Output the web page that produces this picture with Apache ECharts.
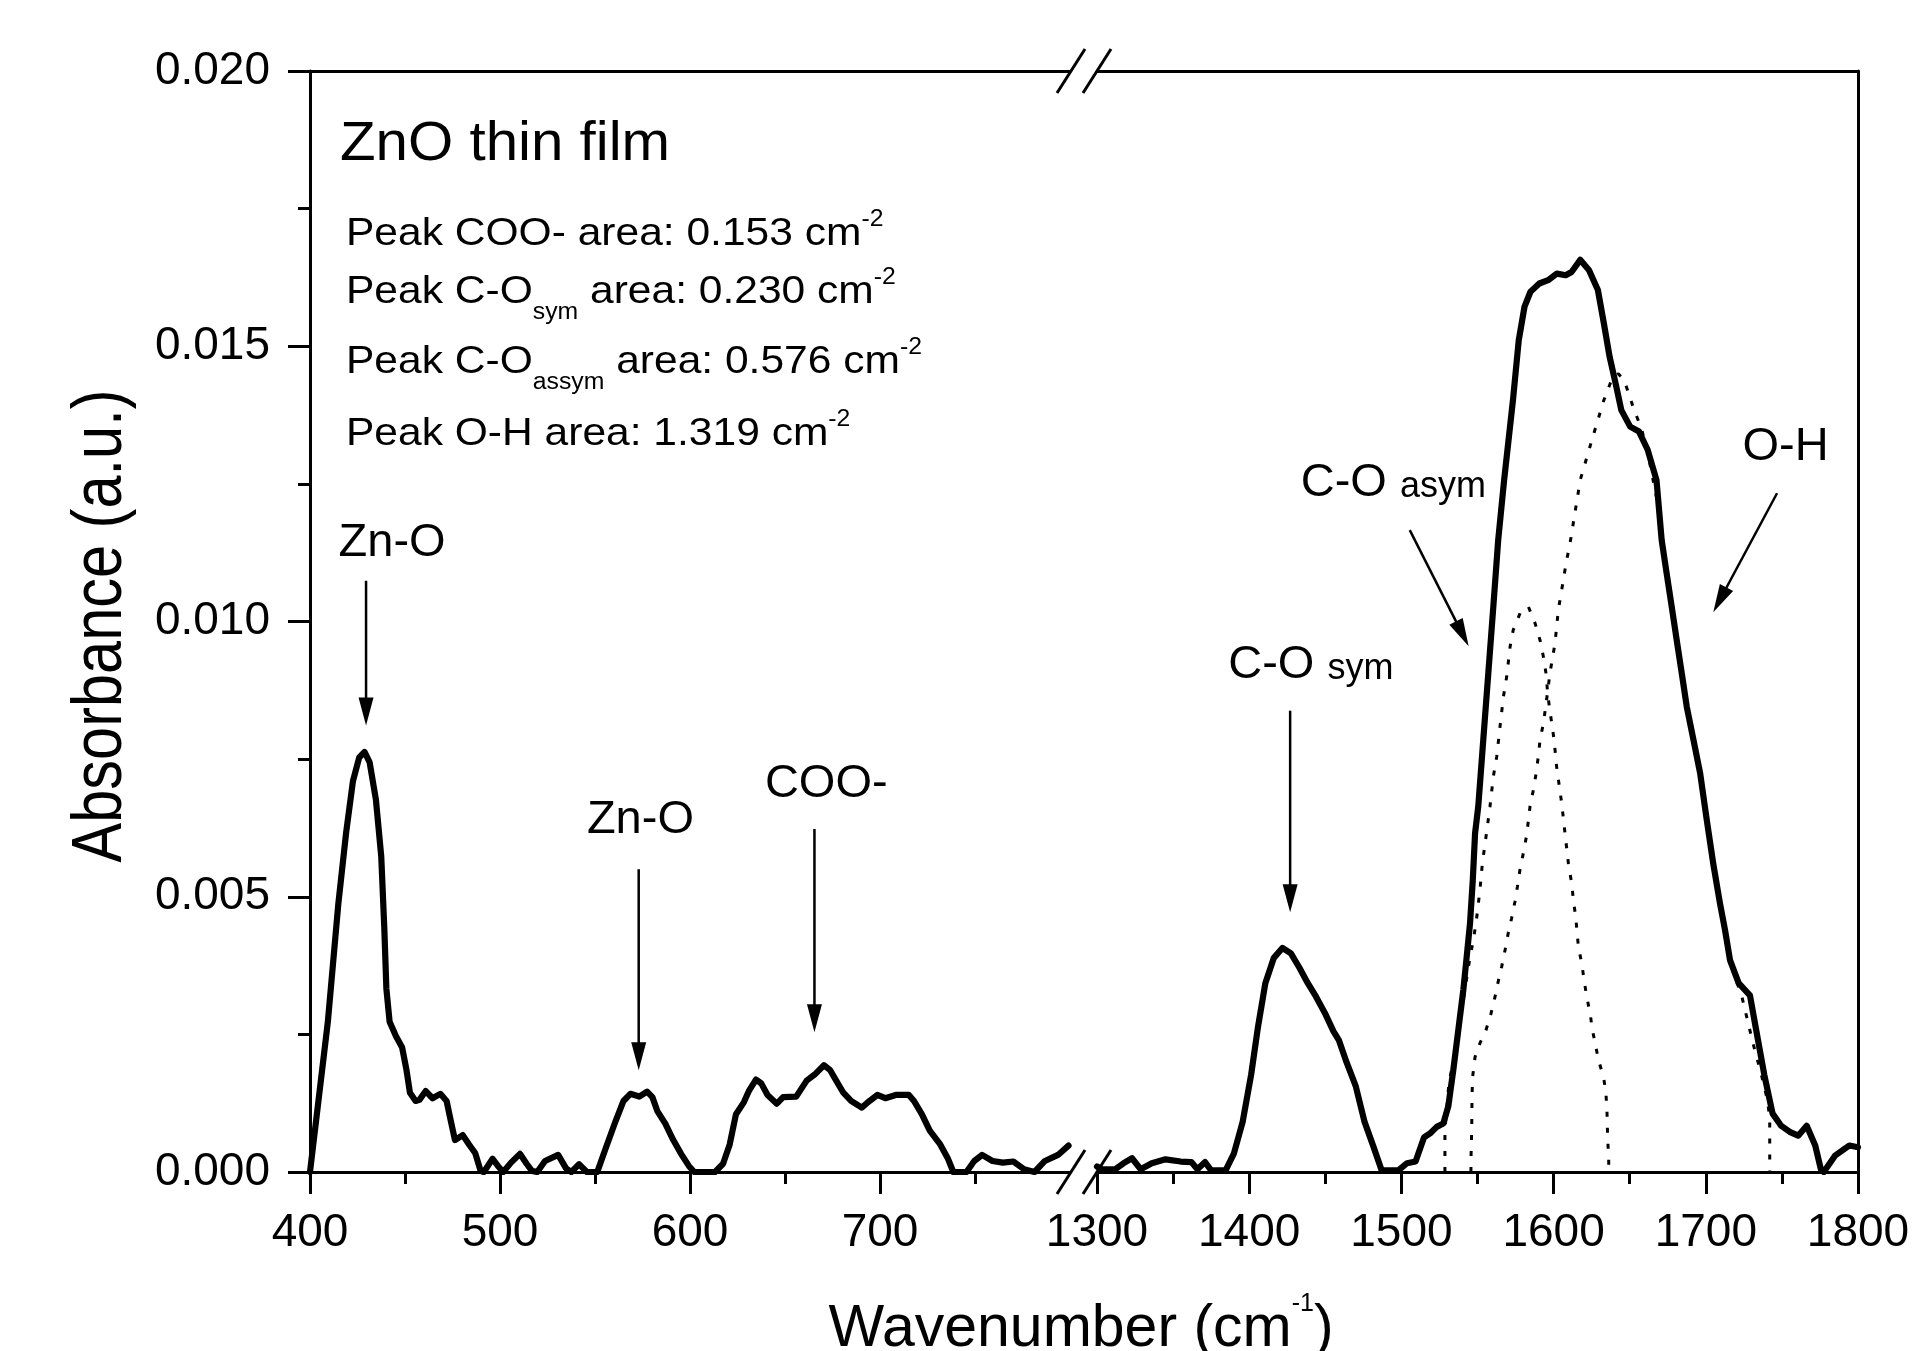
<!DOCTYPE html>
<html>
<head>
<meta charset="utf-8">
<script src="https://cdn.jsdelivr.net/npm/echarts@6/dist/echarts.min.js"></script>
<style>
  html, body { margin: 0; padding: 0; background: #fff; }
  #chart { width: 1919px; height: 1351px; }
</style>
</head>
<body>
<div id="chart"></div>
<script>
// FTIR absorbance of a ZnO thin film, broken wavenumber axis (400-800 | 1300-1800 cm-1)

// measured spectrum, low-wavenumber segment [cm-1, absorbance]
const spectrumLow = [
  [400,0],[409.4,0.00273],[414.9,0.00487],[419,0.00616],[422.6,0.0071],[425.9,0.00753],[428.7,0.00763],
  [431.4,0.00744],[434.7,0.00676],[437.5,0.00573],[439.1,0.00444],[440.2,0.00333],[441.9,0.00273],
  [445.2,0.00247],[448.5,0.00226],[450.7,0.00187],[452.6,0.00144],[455.6,0.00129],[457.6,0.00131],
  [460.9,0.00147],[464.5,0.00134],[468.6,0.00142],[471.9,0.00129],[474.1,0.00093],[476.3,0.00058],
  [480.4,0.00067],[483.7,0.0005],[487,0.00034],[489.8,0.00002],[491.5,0],[496.1,0.00024],[498.9,0.00011],
  [501.7,0],[505.8,0.00017],[510.5,0.00033],[514,0.00015],[516.8,0.00002],[519.6,0],[523.7,0.0002],
  [530.6,0.00031],[534.7,0.00007],[537.5,0],[541.6,0.00014],[545.7,0],[551.2,0],[555.4,0.00041],
  [560.9,0.00093],[565,0.00129],[568.6,0.00142],[573.3,0.00137],[577.4,0.00146],[580.2,0.00136],
  [582.9,0.0011],[587,0.00088],[591.2,0.00058],[595.3,0.00033],[599.4,0.00011],[602.2,0],[613.2,0],
  [617.4,0.00015],[620.9,0.0005],[624.2,0.00105],[628.4,0.00127],[631.1,0.00148],[634.7,0.00168],
  [637.5,0.00161],[640.8,0.0014],[645.7,0.00124],[649,0.00136],[655.9,0.00137],[661.4,0.00166],
  [665.6,0.00177],[670.5,0.00194],[673.8,0.00185],[676.6,0.00168],[680.7,0.00144],[684.8,0.00129],
  [690.4,0.00117],[694.5,0.00129],[698.6,0.0014],[702.8,0.00134],[708.3,0.0014],[715.2,0.0014],
  [717.9,0.00129],[722,0.00105],[726.2,0.00075],[731.7,0.0005],[735.8,0.00024],[738.6,0],[745.5,0],
  [749.6,0.0002],[753.7,0.00031],[759.2,0.0002],[764.7,0.00017],[770.2,0.00019],[775.8,0.00005],
  [781.3,0],[786.8,0.0002],[793.7,0.00031],[799.2,0.00048]
];

// measured spectrum, high-wavenumber segment
const spectrumHigh = [
  [1300,0.0001],[1303,0.00005],[1312,0.00005],[1317.5,0.00016],[1323,0.00025],[1328.7,0.00005],
  [1336,0.00016],[1345,0.00023],[1355,0.00019],[1362,0.00018],[1366,0.00005],[1371,0.00018],
  [1375,0.00003],[1384.5,0.00003],[1390,0.00034],[1395.7,0.00091],[1401.3,0.00177],[1405.8,0.00264],
  [1410.6,0.00343],[1416.2,0.00389],[1421.8,0.00407],[1427.4,0.00397],[1433,0.00371],[1438.5,0.00343],
  [1444,0.00318],[1449.7,0.00289],[1455.3,0.00256],[1459,0.00239],[1464,0.00199],[1470,0.00156],
  [1475.8,0.00091],[1481.4,0.00048],[1487,0.00003],[1498,0.00003],[1503.7,0.00016],[1509.3,0.00019],
  [1514.9,0.00063],[1518.8,0.0007],[1523.2,0.00082],[1527.5,0.00088],[1530.8,0.00119],[1534.1,0.00185],
  [1537.4,0.00258],[1540.7,0.00331],[1542.9,0.00391],[1545.1,0.00452],[1546.9,0.0053],[1548.4,0.00615],
  [1550.5,0.00664],[1553.8,0.00785],[1557.1,0.00906],[1560.4,0.01027],[1563.6,0.01148],[1567.5,0.01257],
  [1573.3,0.01402],[1577.1,0.01511],[1580.9,0.01572],[1584.8,0.01599],[1590.6,0.01614],[1596.4,0.0162],
  [1602.2,0.01632],[1607.9,0.01629],[1611.8,0.01635],[1617.5,0.01657],[1623.3,0.01638],[1629.1,0.01602],
  [1633,0.01542],[1636.8,0.01481],[1640.7,0.01433],[1644.5,0.01384],[1650.3,0.01354],[1656.1,0.01345],
  [1661.8,0.01312],[1667.6,0.01257],[1671,0.01148],[1674.3,0.01087],[1677.6,0.01027],[1680.9,0.00966],
  [1684.2,0.00906],[1687.5,0.00845],[1691.9,0.00785],[1696.3,0.00724],[1700.6,0.0064],[1704.9,0.0056],
  [1709.3,0.00488],[1712.6,0.0044],[1715.9,0.00385],[1721.6,0.00343],[1729,0.00321],[1732.7,0.00264],
  [1738.4,0.00177],[1743.9,0.00106],[1749.5,0.00084],[1755.1,0.00073],[1760.7,0.00066],[1766.3,0.00084],
  [1771.9,0.00048],[1775.6,0.00005],[1777.5,0],[1785,0.0003],[1794.3,0.00048],[1800,0.00045]
];

// fitted component: C-O asymmetric stretch
const fitCOasym = [
  [1528.6,0],[1528.6,0.00076],[1531.2,0.00161],[1533.4,0.00191],[1536.5,0.0024],[1540.5,0.0031],
  [1544.5,0.0038],[1547.6,0.00427],[1549.3,0.00458],[1551.6,0.00512],[1553.2,0.00561],[1555.3,0.00603],
  [1558.2,0.00664],[1560.4,0.00718],[1562.6,0.00754],[1564.8,0.00809],[1567,0.00863],[1569.2,0.009],
  [1571.4,0.00954],[1573.5,0.00985],[1578,0.01015],[1583.4,0.01027],[1587.8,0.00997],[1591.1,0.00966],
  [1593.3,0.00936],[1595,0.00906],[1595.9,0.00876],[1597.2,0.00845],[1598.8,0.00815],[1600.3,0.00785],
  [1602,0.00736],[1603.8,0.007],[1605.3,0.0067],[1607.5,0.00615],[1609.7,0.00561],[1611.9,0.00524],
  [1613,0.00494],[1614.5,0.00464],[1616.3,0.00409],[1618.5,0.00379],[1620,0.00349],[1621.8,0.00318],
  [1624,0.00288],[1625.5,0.00258],[1627.3,0.00234],[1629.5,0.00203],[1632.8,0.00173],[1634.4,0.00143],
  [1635.1,0.00107],[1635.5,0.00064],[1636.2,0.00022],[1636.3,0]
];

// fitted component: O-H bending
const fitOH = [
  [1545.7,0],[1545.7,0.00022],[1546.2,0.00076],[1546.4,0.00137],[1546.8,0.00173],[1548.4,0.00209],
  [1551.6,0.00234],[1555.6,0.00258],[1558.9,0.00288],[1561.5,0.00318],[1563.6,0.00346],[1565.9,0.00373],
  [1568.1,0.00403],[1570.2,0.00434],[1572.4,0.00461],[1574.6,0.00491],[1576.2,0.00518],[1577.9,0.00549],
  [1580.1,0.00579],[1582.3,0.00612],[1584.5,0.00664],[1586.7,0.00694],[1588.5,0.00724],[1589.9,0.00754],
  [1591.1,0.00785],[1593.3,0.00815],[1595.5,0.0086],[1597.6,0.00906],[1600.9,0.0096],[1603.1,0.01021],
  [1606.4,0.01075],[1608.2,0.01106],[1610.8,0.01142],[1617.5,0.01257],[1625.2,0.0133],[1633,0.01402],
  [1638.8,0.01444],[1642.6,0.0145],[1646.4,0.01438],[1652.2,0.0139],[1658,0.01348],[1663,0.0129],
  [1668,0.0122],[1672,0.0114],[1676,0.0106],[1680,0.0098],[1684,0.0091],[1688,0.0084],[1692,0.0078],
  [1696,0.0072],[1700.6,0.0065],[1705,0.0057],[1709,0.0049],[1713,0.0043],[1717.9,0.00364],
  [1723.5,0.00321],[1727.2,0.00278],[1730.9,0.00235],[1736.5,0.00177],[1740.2,0.00134],[1742,0.001],[1742,0]
];

// tick values
const lowTicks = [400, 500, 600, 700];
const highTicks = [1300, 1400, 1500, 1600, 1700, 1800];
const absTicks = [0, 0.005, 0.010, 0.015, 0.020];

// band assignments: label text, label centre, arrow start and tip (data coordinates), panel
const bandName = ['Zn-O', 'Zn-O', 'COO-', 'C-O', 'C-O', 'O-H'];
const bandSuffix = ['', '', '', 'sym', 'asym', ''];
const bandLabelAt = [[443.2,0.01144],[573.9,0.00641],[671.7,0.00707],[1440.5,0.00923],[1494.7,0.01253],[1752.4,0.01319]];
const bandArrowFrom = [[429.5,0.01074],[573,0.0055],[665.5,0.00623],[1426.9,0.00838],[1505.5,0.01166],[1746.8,0.01233]];
const bandArrowTo = [[429.5,0.00811],[573,0.00185],[665.5,0.00254],[1426.9,0.00472],[1544.2,0.00955],[1704.9,0.01017]];
const bandPanel = [0, 0, 0, 1, 1, 1];

// fitted peak areas
const areaLabels = ['COO-', 'C-O|sym', 'C-O|assym', 'O-H'];
const areaValues = ['0.153', '0.230', '0.576', '1.319'];

// ---------- layout ----------
const FF = '"Liberation Sans", Arial, Helvetica, sans-serif';
const PLOT_TOP = 71, PLOT_H = 1101;
const LOW_X0 = 310, LOW_W = 760;
const HIGH_X0 = 1097, HIGH_W = 761;
const MID = 0.33; // alphabetic baseline offset from text middle, in em

const measureCtx = document.createElement('canvas').getContext('2d');
function textWidth(t, size) {
  measureCtx.font = size + 'px ' + FF;
  return measureCtx.measureText(t).width;
}
function textEl(t, size, x, baseline, sx) {
  return {
    type: 'text', x: x, y: baseline - MID * size, scaleX: sx || 1,
    style: {
      text: t, font: size + 'px ' + FF, fill: '#000',
      align: 'left', verticalAlign: 'middle', textAlign: 'left', textVerticalAlign: 'middle'
    },
    silent: true
  };
}
// lay out a run of text pieces (for sub/superscripts) along one baseline
function textRun(parts, x, baseline, sx) {
  sx = sx || 1;
  const out = [];
  parts.forEach(p => {
    if (p.t) out.push(textEl(p.t, p.size, x, baseline + (p.dy || 0), sx));
    x += textWidth(p.t, p.size) * sx;
  });
  return out;
}
function runWidth(parts, sx) {
  return parts.reduce((s, p) => s + textWidth(p.t, p.size), 0) * (sx || 1);
}

// ---------- annotation text block ----------
const graphics = [];
textRun([{ t: 'ZnO thin film', size: 56 }], 340, 163, 1.04).forEach(e => graphics.push(e));
const BLOCK_SX = 1.077, BIG = 39.5, SMALL = 23;
const blockBaselines = [247, 305, 375, 447];
areaLabels.forEach((lab, i) => {
  const [name, sub] = lab.split('|');
  const parts = [{ t: 'Peak ' + name, size: BIG }];
  if (sub) parts.push({ t: sub, size: SMALL, dy: 15 });
  parts.push({ t: ' area: ' + areaValues[i] + ' cm', size: BIG });
  parts.push({ t: '-2', size: SMALL, dy: -20 });
  textRun(parts, 346, blockBaselines[i], BLOCK_SX).forEach(e => graphics.push(e));
});

// x-axis title with superscript
const xTitle = [{ t: 'Wavenumber (cm', size: 59 }, { t: '-1', size: 25, dy: -37 }, { t: ')', size: 59 }];
textRun(xTitle, 1081 - runWidth(xTitle) / 2, 1349).forEach(e => graphics.push(e));

// y-axis title
graphics.push({
  type: 'text', x: 102, y: 626, rotation: Math.PI / 2, scaleX: 0.85, silent: true,
  style: {
    text: 'Absorbance (a.u.)', font: '70px ' + FF, fill: '#000',
    align: 'center', verticalAlign: 'middle', textAlign: 'center', textVerticalAlign: 'middle'
  }
});

// axis-break marks on top and bottom frame lines
[LOW_X0 + LOW_W + 1, HIGH_X0].forEach(cx => {
  [PLOT_TOP, PLOT_TOP + PLOT_H].forEach(cy => {
    graphics.push({
      type: 'line', silent: true, z: 10,
      shape: { x1: cx - 14, y1: cy + 22, x2: cx + 14, y2: cy - 22 },
      style: { stroke: '#000', lineWidth: 3 }
    });
  });
});

// ---------- axes ----------
const black = { color: '#000', width: 3 };
function bottomAxis(grid, min, max, ticks) {
  return {
    gridIndex: grid, type: 'value', position: 'bottom', min: min, max: max, interval: 100,
    axisLine: { show: true, onZero: false, lineStyle: black },
    axisTick: { show: true, length: 22, lineStyle: black, customValues: ticks },
    minorTick: { show: true, splitNumber: 2, length: 12, lineStyle: black },
    axisLabel: { show: true, customValues: ticks, margin: 38, fontSize: 46, fontFamily: FF, color: '#000',
                 formatter: v => String(v) },
    splitLine: { show: false }, minorSplitLine: { show: false }
  };
}
function frameAxis(grid, pos, min, max) {
  return {
    gridIndex: grid, type: 'value', position: pos, min: min, max: max,
    axisLine: { show: true, onZero: false, lineStyle: black },
    axisTick: { show: false }, minorTick: { show: false },
    axisLabel: { show: false }, splitLine: { show: false }
  };
}

// ---------- band annotations (arrows + labels) ----------
const LABEL_BIG = 47, LABEL_SMALL = 36;
function bandItems(panel) {
  const items = [];
  bandName.forEach((n, i) => {
    if (bandPanel[i] !== panel) return;
    items.push([bandLabelAt[i][0], bandLabelAt[i][1], bandArrowFrom[i][0], bandArrowFrom[i][1],
                bandArrowTo[i][0], bandArrowTo[i][1], i]);
  });
  return items;
}
function renderBand(params, api) {
  const i = api.value(6);
  const c = api.coord([api.value(0), api.value(1)]);
  const a = api.coord([api.value(2), api.value(3)]);
  const b = api.coord([api.value(4), api.value(5)]);
  const dx = b[0] - a[0], dy = b[1] - a[1];
  const len = Math.hypot(dx, dy), ux = dx / len, uy = dy / len;
  const headLen = 28, headHalf = 7.5;
  const bx = b[0] - ux * headLen, by = b[1] - uy * headLen;
  const children = [
    { type: 'line', shape: { x1: a[0], y1: a[1], x2: bx + ux * 2, y2: by + uy * 2 },
      style: { stroke: '#000', lineWidth: 2.5 } },
    { type: 'polygon', shape: { points: [[b[0], b[1]], [bx - uy * headHalf, by + ux * headHalf], [bx + uy * headHalf, by - ux * headHalf]] },
      style: { fill: '#000' } }
  ];
  const parts = [{ t: bandName[i], size: LABEL_BIG }];
  if (bandSuffix[i]) { parts.push({ t: ' ', size: LABEL_BIG }); parts.push({ t: bandSuffix[i], size: LABEL_SMALL }); }
  const w = runWidth(parts);
  textRun(parts, c[0] - w / 2, c[1] + 0.358 * LABEL_BIG).forEach(e => children.push(e));
  return { type: 'group', children: children };
}

const spectrumStyle = { color: '#000', width: 6.2, join: 'round', cap: 'round' };
const fitStyle = { color: '#000', width: 3, type: [5, 11], cap: 'butt' };

const option = {
  backgroundColor: '#fff',
  animation: false,
  grid: [
    { left: LOW_X0, top: PLOT_TOP, width: LOW_W, height: PLOT_H },
    { left: HIGH_X0, top: PLOT_TOP, width: HIGH_W, height: PLOT_H }
  ],
  xAxis: [
    bottomAxis(0, 400, 800, lowTicks),
    frameAxis(0, 'top', 400, 800),
    bottomAxis(1, 1300, 1800, highTicks),
    frameAxis(1, 'top', 1300, 1800)
  ],
  yAxis: [
    {
      gridIndex: 0, type: 'value', position: 'left', min: 0, max: 0.02, interval: 0.005,
      axisLine: { show: true, onZero: false, lineStyle: black },
      axisTick: { show: true, length: 22, lineStyle: black },
      minorTick: { show: true, splitNumber: 2, length: 12, lineStyle: black },
      axisLabel: { show: true, margin: 40, fontSize: 46, fontFamily: FF, color: '#000',
                   formatter: v => v.toFixed(3), customValues: absTicks },
      splitLine: { show: false }, minorSplitLine: { show: false }
    },
    frameAxis(1, 'right', 0, 0.02)
  ],
  series: [
    { type: 'line', xAxisIndex: 0, yAxisIndex: 0, data: spectrumLow, symbol: 'none', lineStyle: spectrumStyle, z: 4, silent: true },
    { type: 'line', xAxisIndex: 2, yAxisIndex: 1, data: spectrumHigh, symbol: 'none', lineStyle: spectrumStyle, z: 4, silent: true },
    { type: 'line', xAxisIndex: 2, yAxisIndex: 1, data: fitCOasym, symbol: 'none', lineStyle: fitStyle, z: 3, silent: true },
    { type: 'line', xAxisIndex: 2, yAxisIndex: 1, data: fitOH, symbol: 'none', lineStyle: fitStyle, z: 3, silent: true },
    { type: 'custom', xAxisIndex: 0, yAxisIndex: 0, data: bandItems(0), renderItem: renderBand, clip: false, z: 5, silent: true },
    { type: 'custom', xAxisIndex: 2, yAxisIndex: 1, data: bandItems(1), renderItem: renderBand, clip: false, z: 5, silent: true }
  ],
  graphic: { elements: graphics }
};

const chart = echarts.init(document.getElementById('chart'), null, { renderer: 'canvas' });
chart.setOption(option);
</script>
</body>
</html>
